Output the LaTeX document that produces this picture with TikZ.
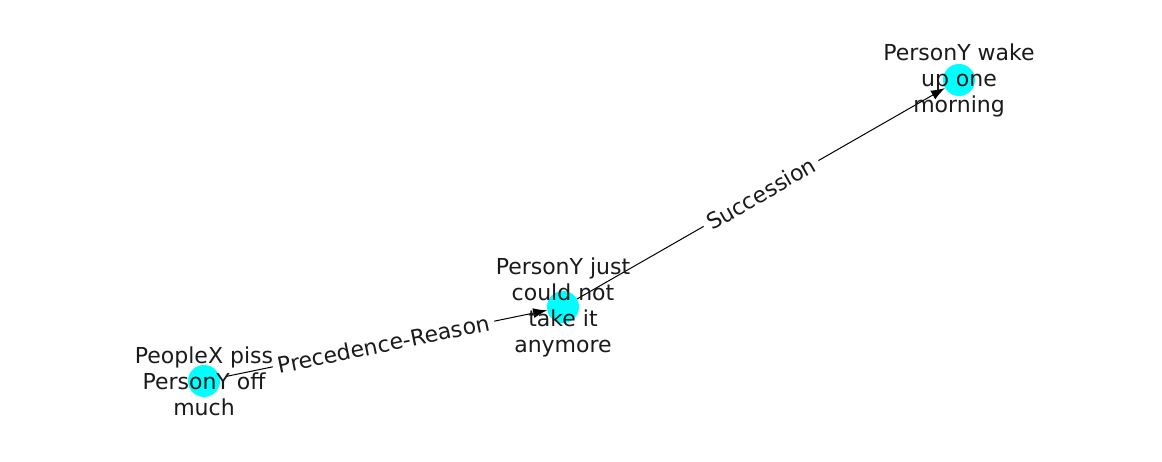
\documentclass[tikz,border=0pt]{standalone}
\usepackage{fontspec}
\setmainfont{DejaVu Sans}
\usetikzlibrary{arrows.meta}
\definecolor{nodecyan}{HTML}{00FFFF}
\definecolor{txt}{HTML}{1A1A1A}
\tikzset{
  dot/.style={circle, fill=nodecyan, minimum size=32pt, inner sep=0pt},
  lbl/.style={font=\fontsize{22pt}{26pt}\selectfont, text=txt, align=center, inner sep=0pt},
  edgelbl/.style={font=\fontsize{22pt}{26pt}\selectfont, text=txt, fill=white, inner sep=5pt, sloped, midway},
  conn/.style={draw=black, line width=1pt, -{Latex[length=14pt,width=10pt]}}
}
\begin{document}
\begin{tikzpicture}[x=1pt,y=-1pt]
\useasboundingbox (0,0) rectangle (1162,462);
\node[dot] (a) at (204,381) {};
\node[dot] (b) at (563,307) {};
\node[dot] (c) at (959,80) {};
\draw[conn, shorten <=6pt] (a) -- (b) node[edgelbl] {Precedence-Reason};
\draw[conn] (b) -- (c) node[edgelbl] {Succession};
\node[lbl] (ta) at (204,381) {PeopleX piss\\PersonY off\\much};
\node[lbl] (tb) at (563,307) {PersonY just\\could not\\take it\\anymore};
\node[lbl] (tc) at (959,80) {PersonY wake\\up one\\morning};
\end{tikzpicture}
\end{document}
